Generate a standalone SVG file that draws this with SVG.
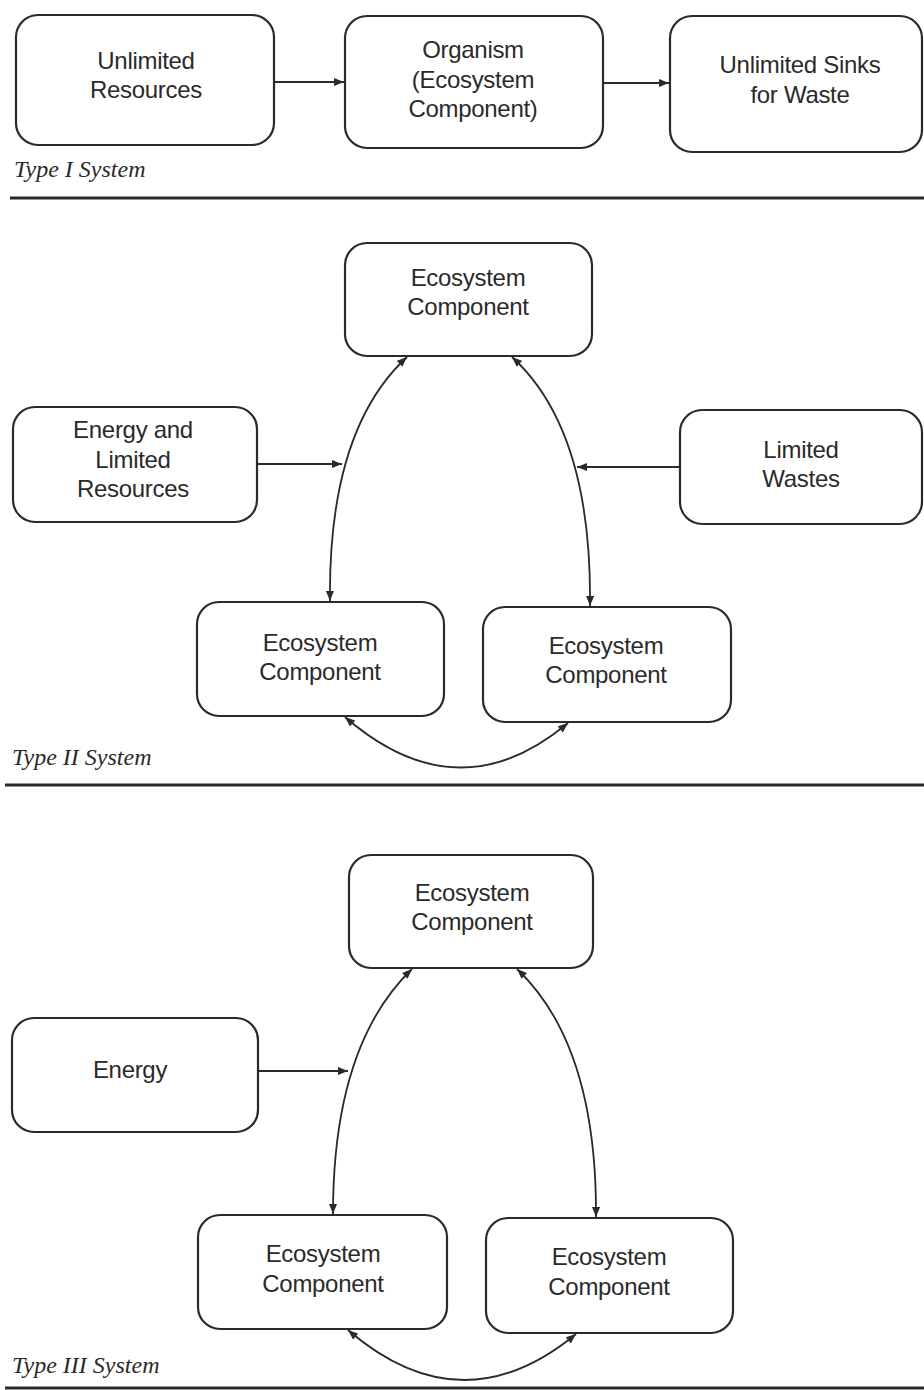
<svg xmlns="http://www.w3.org/2000/svg" width="924" height="1390" viewBox="0 0 924 1390">
<defs>
<style>
.box{fill:#fff;stroke:#2a2a2a;stroke-width:2.2}
.lbl{font-family:"Liberation Sans",Arial,sans-serif;font-size:24px;fill:#2a2a2a;text-anchor:middle;letter-spacing:-0.3px}
.cap{font-family:"Liberation Serif","Times New Roman",serif;font-style:italic;font-size:24px;fill:#2a2a2a}
.conn{fill:none;stroke:#2a2a2a;stroke-width:1.8}
.rule{stroke:#2a2a2a;stroke-width:3}
</style>
<marker id="ah" viewBox="0 0 10 8" refX="10" refY="4" markerWidth="11" markerHeight="8" markerUnits="userSpaceOnUse" orient="auto-start-reverse">
<path d="M0,0 L10,4 L0,8 z" fill="#2a2a2a"/>
</marker>
</defs>
<rect width="924" height="1390" fill="#fff"/>

<!-- Type I -->
<g id="t1-resources"><rect class="box" x="16" y="15" width="258" height="130" rx="22"/>
<text class="lbl" x="146" y="69">Unlimited</text><text class="lbl" x="146" y="98">Resources</text></g>
<g id="t1-organism"><rect class="box" x="345" y="16" width="258" height="132" rx="22"/>
<text class="lbl" x="473" y="58">Organism</text><text class="lbl" x="473" y="88">(Ecosystem</text><text class="lbl" x="473" y="117">Component)</text></g>
<g id="t1-sinks"><rect class="box" x="670" y="16" width="252" height="136" rx="22"/>
<text class="lbl" x="800" y="73">Unlimited Sinks</text><text class="lbl" x="800" y="103">for Waste</text></g>
<text class="cap" x="14" y="177">Type I System</text>
<line class="rule" x1="10" y1="198" x2="924" y2="198"/>

<!-- Type II -->
<g id="t2-top"><rect class="box" x="345" y="243" width="247" height="113" rx="22"/>
<text class="lbl" x="468" y="286">Ecosystem</text><text class="lbl" x="468" y="315">Component</text></g>
<g id="t2-energy"><rect class="box" x="13" y="407" width="244" height="115" rx="22"/>
<text class="lbl" x="133" y="438">Energy and</text><text class="lbl" x="133" y="468">Limited</text><text class="lbl" x="133" y="497">Resources</text></g>
<g id="t2-wastes"><rect class="box" x="680" y="410" width="242" height="114" rx="22"/>
<text class="lbl" x="801" y="458">Limited</text><text class="lbl" x="801" y="487">Wastes</text></g>
<g id="t2-left"><rect class="box" x="197" y="602" width="247" height="114" rx="22"/>
<text class="lbl" x="320" y="651">Ecosystem</text><text class="lbl" x="320" y="680">Component</text></g>
<g id="t2-right"><rect class="box" x="483" y="607" width="248" height="115" rx="22"/>
<text class="lbl" x="606" y="654">Ecosystem</text><text class="lbl" x="606" y="683">Component</text></g>
<text class="cap" x="12" y="765">Type II System</text>
<line class="rule" x1="5" y1="785" x2="924" y2="785"/>

<!-- Type III -->
<g id="t3-top"><rect class="box" x="349" y="855" width="244" height="113" rx="22"/>
<text class="lbl" x="472" y="901">Ecosystem</text><text class="lbl" x="472" y="930">Component</text></g>
<g id="t3-energy"><rect class="box" x="12" y="1018" width="246" height="114" rx="22"/>
<text class="lbl" x="130" y="1078">Energy</text></g>
<g id="t3-left"><rect class="box" x="198" y="1215" width="249" height="114" rx="22"/>
<text class="lbl" x="323" y="1262">Ecosystem</text><text class="lbl" x="323" y="1292">Component</text></g>
<g id="t3-right"><rect class="box" x="486" y="1218" width="247" height="115" rx="22"/>
<text class="lbl" x="609" y="1265">Ecosystem</text><text class="lbl" x="609" y="1295">Component</text></g>
<text class="cap" x="12" y="1373">Type III System</text>
<line class="rule" x1="5" y1="1388" x2="924" y2="1388"/>

<g id="connectors">
<line class="conn" x1="274" y1="82" x2="344" y2="82" marker-end="url(#ah)"/>
<line class="conn" x1="603" y1="83" x2="669" y2="83" marker-end="url(#ah)"/>

<line class="conn" x1="257" y1="464" x2="342" y2="464" marker-end="url(#ah)"/>
<line class="conn" x1="680" y1="467" x2="577" y2="467" marker-end="url(#ah)"/>
<path class="conn" d="M407,357 Q328,430 330,601" marker-start="url(#ah)" marker-end="url(#ah)"/>
<path class="conn" d="M512,357 Q592,430 590,606" marker-start="url(#ah)" marker-end="url(#ah)"/>
<path class="conn" d="M345,717 Q458,815 568,723" marker-start="url(#ah)" marker-end="url(#ah)"/>

<line class="conn" x1="258" y1="1071" x2="348" y2="1071" marker-end="url(#ah)"/>
<path class="conn" d="M412,969 Q333,1045 333,1214" marker-start="url(#ah)" marker-end="url(#ah)"/>
<path class="conn" d="M517,969 Q597,1045 596,1217" marker-start="url(#ah)" marker-end="url(#ah)"/>
<path class="conn" d="M348,1330 Q462,1428 576,1334" marker-start="url(#ah)" marker-end="url(#ah)"/>
</g>
</svg>
